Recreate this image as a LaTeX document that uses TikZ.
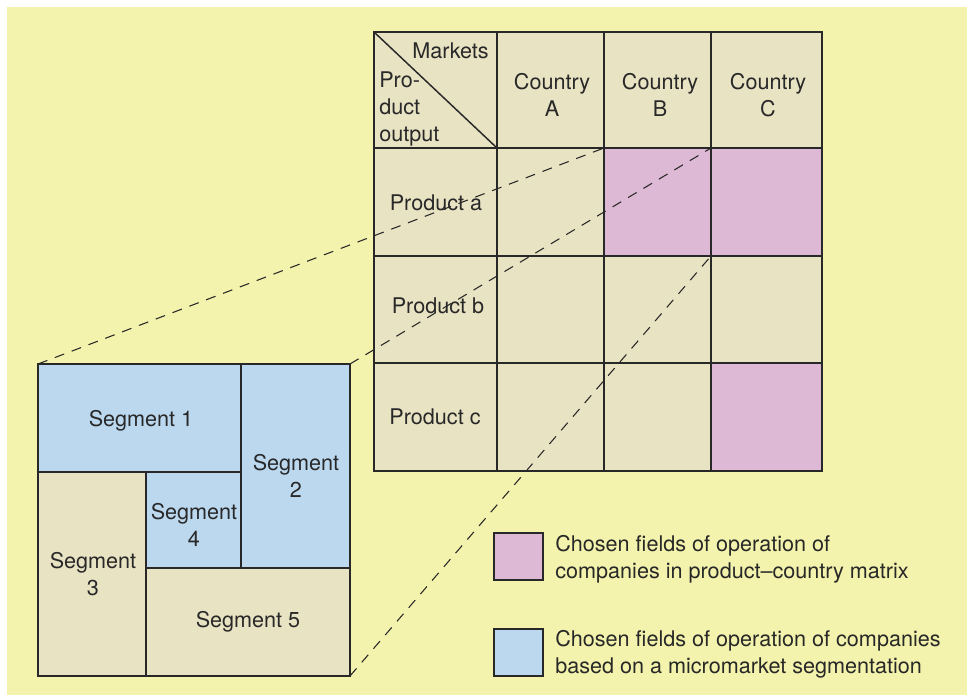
\documentclass[tikz,border=0pt]{standalone}
\usepackage{fontspec}
\setmainfont{TeX Gyre Heros}
\definecolor{bgyellow}{RGB}{243,243,173}
\definecolor{beige}{RGB}{232,227,195}
\definecolor{pinkf}{RGB}{221,185,213}
\definecolor{bluef}{RGB}{187,216,239}
\definecolor{ink}{RGB}{40,40,40}
\tikzset{
  cellline/.style={draw=ink, line width=1.1pt},
  zoomline/.style={draw=ink, line width=0.8pt, dash pattern=on 7.5pt off 6pt},
  txt/.style={text=ink, font=\fontsize{16.2}{20}\selectfont, inner sep=0pt, align=center},
}
\begin{document}
\begin{tikzpicture}[x=0.75pt,y=0.75pt,yscale=-1,xscale=1]
\useasboundingbox (0,0) rectangle (967,695);

%Background
\fill[bgyellow] (7,7) rectangle (967,695);

%Matrix cells
\fill[beige] (374,32) rectangle (822,471);
\fill[pinkf] (604,148) rectangle (822,256);
\fill[pinkf] (711,363) rectangle (822,471);

%Matrix grid
\foreach \gx in {497,604,711} \draw[cellline] (\gx,32) -- (\gx,471);
\foreach \gy in {148,256,363} \draw[cellline] (374,\gy) -- (822,\gy);
\draw[cellline] (374,32) -- (497,148);
\draw[cellline] (374,32) rectangle (822,471);

%Segment box
\draw[cellline, fill=bluef] (38,364) rectangle (241,472);
\draw[cellline, fill=bluef] (241,364) rectangle (350,568);
\draw[cellline, fill=beige] (38,472) rectangle (146,676);
\draw[cellline, fill=bluef] (146,472) rectangle (241,568);
\draw[cellline, fill=beige] (146,568) rectangle (350,676);

%Corners for the zoom lines
\coordinate (segNW) at (38,364);
\coordinate (segNE) at (350,364);
\coordinate (segSE) at (350,676);
\coordinate (pbNW) at (604,148);
\coordinate (pcNW) at (711,148);
\coordinate (pcSW) at (711,256);

%Zoom lines
\draw[zoomline] (segNW) -- (pbNW);
\draw[zoomline] (segNE) -- (pcNW);
\draw[zoomline] (segSE) -- (pcSW);

% Text Node
\node[txt, anchor=east] (markets) at (489,51) {Markets};
% Text Node
\node[txt, align=left, anchor=west, font=\fontsize{16.2}{20.5}\selectfont] (prodout) at (379,109) {Pro-\\duct\\output};
% Text Node
\node[txt] (ctyA) at (552,95) {Country\\A};
% Text Node
\node[txt] (ctyB) at (660,95) {Country\\B};
% Text Node
\node[txt] (ctyC) at (768,95) {Country\\C};
% Text Node
\node[txt] (proda) at (436,203) {Product a};
% Text Node
\node[txt] (prodb) at (438,306) {Product b};
% Text Node
\node[txt] (prodc) at (435,417) {Product c};

% Text Node
\node[txt] (seg1) at (141,421) {Segment 1};
% Text Node
\node[txt] (seg2) at (296,476) {Segment\\2};
% Text Node
\node[txt] (seg3) at (93,574) {Segment\\3};
% Text Node
\node[txt] (seg4) at (194,525) {Segment\\4};
% Text Node
\node[txt] (seg5) at (248,622) {Segment 5};

%Legend
\draw[cellline, fill=pinkf] (494,533) rectangle (543,580);
\draw[cellline, fill=bluef] (494,629) rectangle (543,676);
% Text Node
\node[txt, align=left, anchor=west] (legpink) at (555,559) {Chosen fields of operation of\\companies in product--country matrix};
% Text Node
\node[txt, align=left, anchor=west] (legblue) at (555,654) {Chosen fields of operation of companies\\based on a micromarket segmentation};

\end{tikzpicture}
\end{document}
